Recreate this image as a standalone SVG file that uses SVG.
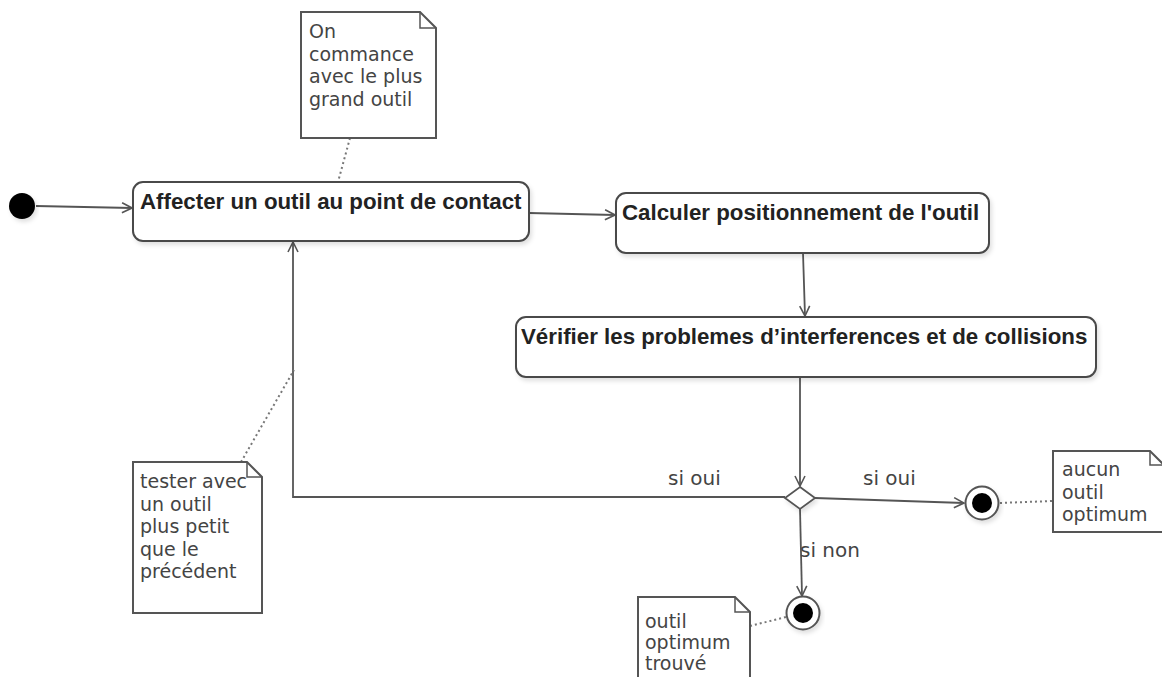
<svg xmlns="http://www.w3.org/2000/svg" width="1162" height="677" viewBox="0 0 1162 677">
  <style>
    .state { fill: #ffffff; stroke: #4a4a4a; stroke-width: 2; }
    .label { font-family: "Liberation Sans", Arial, sans-serif; font-size: 22.3px; font-weight: bold; fill: #222; }
    .note { fill: #ffffff; stroke: #555; stroke-width: 2; }
    .fold { fill: none; stroke: #555; stroke-width: 1.5; }
    .ntext { font-family: "DejaVu Sans", Verdana, sans-serif; font-size: 19px; fill: #444; }
    .edge { fill: none; stroke: #555; stroke-width: 1.8; }
    .anchor { fill: none; stroke: #777; stroke-width: 2; stroke-dasharray: 2 3; }
    .guard { font-family: "DejaVu Sans", Verdana, sans-serif; font-size: 20px; fill: #444; }
  </style>
  <defs>
    <marker id="open" viewBox="0 0 12 12" refX="11" refY="6" markerWidth="12" markerHeight="12" markerUnits="userSpaceOnUse" orient="auto">
      <path d="M1,1 L11,6 L1,11" fill="none" stroke="#555" stroke-width="1.6"/>
    </marker>
    <filter id="shadow" x="-10%" y="-10%" width="125%" height="140%">
      <feDropShadow dx="2" dy="3" stdDeviation="2" flood-color="#000" flood-opacity="0.12"/>
    </filter>
  </defs>
  <rect width="1162" height="677" fill="#ffffff"/>

  <!-- connectors -->
  <g id="connectors">
    <line class="edge" x1="36" y1="206" x2="132" y2="208" marker-end="url(#open)"/>
    <line class="edge" x1="529" y1="213" x2="615" y2="215" marker-end="url(#open)"/>
    <line class="edge" x1="803" y1="253" x2="805" y2="316" marker-end="url(#open)"/>
    <line class="edge" x1="800" y1="377" x2="800" y2="486" marker-end="url(#open)"/>
    <polyline class="edge" points="785,497 293,497 293,242" marker-end="url(#open)"/>
    <line class="edge" x1="815" y1="498" x2="964" y2="503" marker-end="url(#open)"/>
    <line class="edge" x1="800" y1="509" x2="802" y2="596" marker-end="url(#open)"/>
    <line class="anchor" x1="350" y1="138" x2="338" y2="182"/>
    <line class="anchor" x1="241" y1="462" x2="294" y2="370"/>
    <line class="anchor" x1="1000" y1="503" x2="1053" y2="501"/>
    <line class="anchor" x1="750" y1="626" x2="786" y2="617"/>
    <text class="guard" x="668" y="485">si oui</text>
    <text class="guard" x="863" y="485">si oui</text>
    <text class="guard" x="800" y="557">si non</text>
  </g>

  <!-- start -->
  <g id="start">
    <circle cx="22" cy="206" r="13" fill="#000" filter="url(#shadow)"/>
  </g>

  <g id="affecter">
    <rect class="state" x="133" y="182" width="396" height="59" rx="10" filter="url(#shadow)"/>
    <text class="label" x="140" y="209">Affecter un outil au point de contact</text>
  </g>

  <g id="calculer">
    <rect class="state" x="616" y="193" width="373" height="60" rx="10" filter="url(#shadow)"/>
    <text class="label" x="622" y="220">Calculer positionnement de l'outil</text>
  </g>

  <g id="verifier">
    <rect class="state" x="516" y="317" width="580" height="60" rx="10" filter="url(#shadow)"/>
    <text class="label" x="521" y="344">Vérifier les problemes d’interferences et de collisions</text>
  </g>

  <g id="decision">
    <polygon points="800,487 815,498 800,509 785,498" fill="#fff" stroke="#555" stroke-width="1.8" filter="url(#shadow)"/>
  </g>

  <g id="end-aucun">
    <circle cx="982" cy="503" r="16.5" fill="#fff" stroke="#555" stroke-width="2" filter="url(#shadow)"/>
    <circle cx="982" cy="503" r="10" fill="#000"/>
  </g>

  <g id="end-trouve">
    <circle cx="803" cy="613" r="16.5" fill="#fff" stroke="#555" stroke-width="2" filter="url(#shadow)"/>
    <circle cx="803" cy="613" r="10" fill="#000"/>
  </g>

  <!-- notes -->
  <g id="note-commence">
    <path class="note" d="M301,12 H420 L436,28 V138 H301 Z"/>
    <path class="fold" d="M420,12 V28 H436"/>
    <text class="ntext" x="309" y="38">On</text>
    <text class="ntext" x="309" y="61">commance</text>
    <text class="ntext" x="309" y="83">avec le plus</text>
    <text class="ntext" x="309" y="106">grand outil</text>
  </g>

  <g id="note-tester">
    <path class="note" d="M133,462 H247 L262,477 V613 H133 Z"/>
    <path class="fold" d="M247,462 V477 H262"/>
    <text class="ntext" x="140" y="488">tester avec</text>
    <text class="ntext" x="140" y="511">un outil</text>
    <text class="ntext" x="140" y="533">plus petit</text>
    <text class="ntext" x="140" y="556">que le</text>
    <text class="ntext" x="140" y="578">précédent</text>
  </g>

  <g id="note-aucun">
    <path class="note" d="M1053,451 H1150 L1164,465 V532 H1053 Z"/>
    <path class="fold" d="M1150,451 V465 H1164"/>
    <text class="ntext" x="1062" y="476">aucun</text>
    <text class="ntext" x="1062" y="499">outil</text>
    <text class="ntext" x="1062" y="521">optimum</text>
  </g>

  <g id="note-trouve">
    <path class="note" d="M638,597 H735 L750,612 V680 H638 Z"/>
    <path class="fold" d="M735,597 V612 H750"/>
    <text class="ntext" x="645" y="628">outil</text>
    <text class="ntext" x="645" y="649">optimum</text>
    <text class="ntext" x="645" y="670">trouvé</text>
  </g>
</svg>
